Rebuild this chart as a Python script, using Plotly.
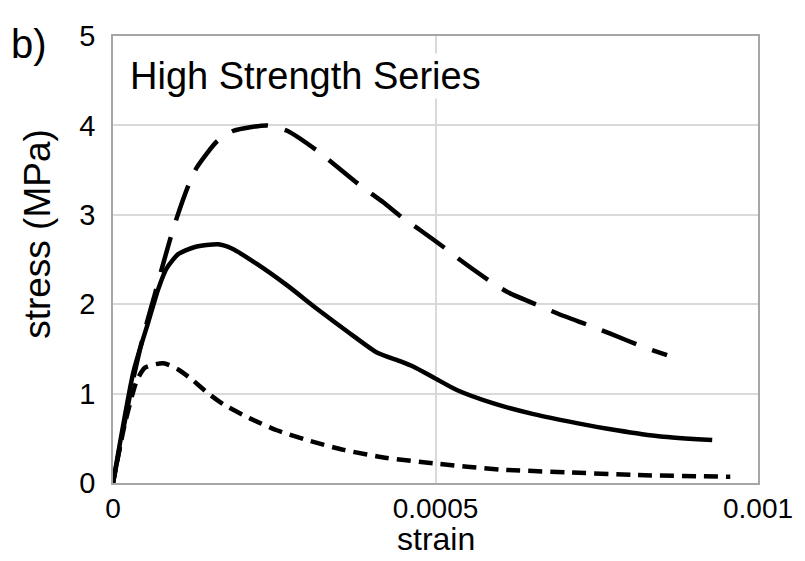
import plotly.graph_objects as go

# Long-dashed series (peak ~4 MPa)
strain_a = [0, 0.0000164, 0.0000319, 0.0000423, 0.0000527, 0.0000656, 0.0000754, 0.0000883,
            0.0000986, 0.000117, 0.00013, 0.000161, 0.000187, 0.000239, 0.00027,
            0.000316, 0.000383, 0.000419, 0.00045, 0.000476, 0.000518, 0.000541, 0.000588,
            0.000613, 0.000665, 0.000691, 0.000743, 0.000771, 0.000823, 0.000859]
stress_a = [0, 0.62, 1.18, 1.51, 1.80, 2.13, 2.39, 2.72,
            2.96, 3.33, 3.53, 3.82, 3.94, 4.0, 3.94,
            3.72, 3.33, 3.14, 2.96, 2.83, 2.61, 2.48, 2.24,
            2.13, 1.97, 1.89, 1.75, 1.67, 1.52, 1.43]

# Solid series (peak ~2.67 MPa)
strain_b = [0, 0.0000319, 0.0000547, 0.0000702, 0.0000831, 0.000101, 0.000127, 0.000163,
            0.000185, 0.000223, 0.00027, 0.000316, 0.000368, 0.000409, 0.000446,
            0.000466, 0.000497, 0.000533, 0.00059, 0.000652, 0.000719, 0.000781, 0.000849,
            0.000929]
stress_b = [0, 1.25, 1.80, 2.17, 2.40, 2.56, 2.64, 2.67,
            2.62, 2.45, 2.21, 1.95, 1.67, 1.46, 1.36,
            1.30, 1.18, 1.04, 0.89, 0.77, 0.67, 0.59, 0.52,
            0.48]

# Short-dashed series (peak ~1.34 MPa)
strain_c = [0, 0.000018, 0.0000366, 0.0000496, 0.000078, 0.000101, 0.000122, 0.000148,
            0.000171, 0.000213, 0.000254, 0.000301, 0.000358, 0.000425, 0.000497, 0.0006,
            0.000704, 0.000807, 0.000957]
stress_c = [0, 0.65, 1.14, 1.29, 1.34, 1.27, 1.16, 1.00,
            0.88, 0.72, 0.59, 0.48, 0.37, 0.28, 0.22, 0.15,
            0.12, 0.09, 0.07]

x_ticks = [0, 0.0005, 0.001]
x_tick_labels = ["0", "0.0005", "0.001"]
y_ticks = [0, 1, 2, 3, 4, 5]

FONT = "Liberation Sans, Arial, sans-serif"

fig = go.Figure()
fig.add_trace(go.Scatter(x=strain_a, y=stress_a, mode="lines",
                         line=dict(color="black", width=4.5, dash="37px,17px",
                                   shape="spline", smoothing=0.6),
                         showlegend=False))
fig.add_trace(go.Scatter(x=strain_b, y=stress_b, mode="lines",
                         line=dict(color="black", width=4.5, shape="spline", smoothing=0.6),
                         showlegend=False))
fig.add_trace(go.Scatter(x=strain_c, y=stress_c, mode="lines",
                         line=dict(color="black", width=4.5, dash="14px,8px",
                                   shape="spline", smoothing=0.6),
                         showlegend=False))

fig.update_layout(
    width=805, height=561,
    margin=dict(l=105, r=55, t=21.5, b=86),
    paper_bgcolor="white", plot_bgcolor="white",
    font=dict(family=FONT, color="black"),
    xaxis=dict(range=[0, 0.001], tickvals=x_ticks, ticktext=x_tick_labels,
               showgrid=True, gridcolor="#d9d9d9", gridwidth=1.5,
               showline=True, linecolor="#a6a6a6", linewidth=1.5, mirror=True,
               zeroline=False, ticks="",
               tickfont=dict(size=28, family=FONT)),
    yaxis=dict(range=[0, 5], tickvals=y_ticks,
               showgrid=True, gridcolor="#d9d9d9", gridwidth=1.5,
               showline=True, linecolor="#a6a6a6", linewidth=1.5, mirror=True,
               zeroline=False, ticks="", ticklabelstandoff=10,
               tickfont=dict(size=29, family=FONT)),
    annotations=[
        dict(text="High Strength Series", xref="paper", yref="paper", x=0.0238, y=0.911,
             xanchor="left", yanchor="middle", showarrow=False, bgcolor="white",
             font=dict(size=38, family=FONT, color="black")),
        dict(text="b)", xref="paper", yref="paper", x=-0.1298, y=0.983,
             xanchor="center", yanchor="middle", showarrow=False,
             font=dict(size=40, family=FONT, color="black")),
        dict(text="stress (MPa)", xref="paper", yref="paper", x=-0.1174, y=0.558,
             xanchor="center", yanchor="middle", showarrow=False, textangle=-90,
             font=dict(size=37, family=FONT, color="black")),
        dict(text="strain", xref="paper", yref="paper", x=0.5, y=-0.126,
             xanchor="center", yanchor="middle", showarrow=False,
             font=dict(size=32, family=FONT, color="black")),
    ],
)

fig.write_html("out.html")
